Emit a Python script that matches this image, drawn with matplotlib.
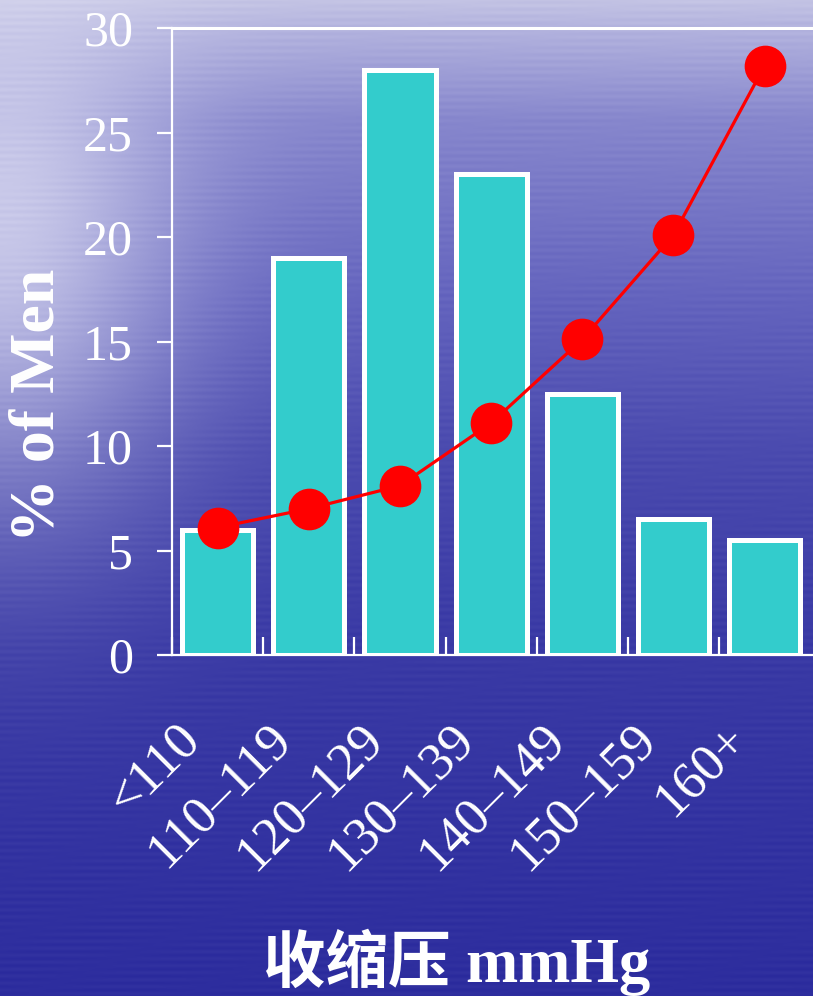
import numpy as np
import matplotlib
matplotlib.use('Agg')
import matplotlib.pyplot as plt
from matplotlib import transforms

# ---- data ----
categories = ['<110', '110–119', '120–129', '130–139', '140–149', '150–159', '160+']
bar_values = [6.0, 19.0, 28.0, 23.0, 12.5, 6.5, 5.5]
line_values = [6.1, 7.0, 8.1, 11.1, 15.1, 20.1, 28.2]
y_ticks = [0, 5, 10, 15, 20, 25, 30]
x_label = '收缩压 mmHg'
y_label = '% of Men'

W, H = 813, 996
fig = plt.figure(figsize=(W / 100, H / 100), dpi=100)

# ---- background gradient (water-like) ----
yy, xx = np.mgrid[0:H, 0:W]
yn = yy / (H - 1)
xn = xx / (W - 1)
stops_y = [0.0, 0.03, 0.12, 0.3, 0.45, 0.65, 1.0]
stops_c = np.array([[195, 195, 228], [178, 178, 222], [135, 135, 205],
                    [100, 100, 190], [75, 75, 175], [58, 58, 165], [45, 45, 158]], float)
img = np.zeros((H, W, 3))
for k in range(3):
    img[..., k] = np.interp(yn, stops_y, stops_c[:, k])
glow = np.exp(-((xn - 0.0) / 0.22) ** 2 - ((yn - 0.22) / 0.28) ** 2)
light = np.array([228, 228, 245], float)
img = img * (1 - 0.75 * glow[..., None]) + light * 0.75 * glow[..., None]
# faint horizontal streaks (deterministic)
streak = 3.5 * np.sin(yy * 0.9) * np.sin(xx * 0.02 + yy * 0.05)
img = np.clip(img + streak[..., None] * np.array([1, 1, 0.5]), 0, 255) / 255.0

bg = fig.add_axes([0, 0, 1, 1], zorder=-10)
bg.imshow(img, aspect='auto', interpolation='bilinear')
bg.axis('off')

# ---- main axes ----
ax = fig.add_axes([172 / W, 341 / H, 1 - 172 / W, (968 - 341) / H])
ax.patch.set_alpha(0)
x = np.arange(len(categories))
ax.bar(x, bar_values, width=0.78, color='#33CCCC', edgecolor='white',
       linewidth=3.6, zorder=2)
ax.plot(x, line_values, color='#FF0000', lw=2.3, marker='o', ms=29,
        zorder=3, clip_on=False)
ax.set_xlim(-0.49, 6.53)
ax.set_ylim(0, 30)

for s in ['left', 'bottom', 'top']:
    ax.spines[s].set_color('white')
    ax.spines[s].set_linewidth(1.6)
ax.spines['top'].set_linewidth(2.2)
ax.spines['right'].set_visible(False)

serif = 'Liberation Serif'
ax.set_yticks(y_ticks)
ax.set_yticklabels([str(v) for v in y_ticks], family=serif, fontsize=36, color='white')
ax.tick_params(axis='y', direction='out', length=11, width=1.6, color='white', pad=17)

ax.set_xticks(x)
ax.set_xticks(np.arange(-0.5, len(categories) - 0.5, 1.0), minor=True)
labels = ax.set_xticklabels(categories, family=serif, fontsize=38, color='white',
                            rotation=45, ha='right', va='top', rotation_mode='anchor')
ax.tick_params(axis='x', which='major', length=0, pad=43)
ax.tick_params(axis='x', which='minor', direction='in', length=13, width=1.6, color='white')
off = transforms.ScaledTranslation(-0.42, 0, fig.dpi_scale_trans)
for lab in labels:
    lab.set_transform(lab.get_transform() + off)

fig.text(457 / W, 14 / H, x_label, family=[serif, 'Noto Sans CJK SC'], fontweight='bold',
         fontsize=45, color='white', ha='center', va='baseline')
fig.text(38 / W, 591 / H, y_label, family=serif, fontweight='bold', fontsize=46,
         color='white', ha='center', va='center', rotation=90)

fig.savefig('out.png', dpi=100)
